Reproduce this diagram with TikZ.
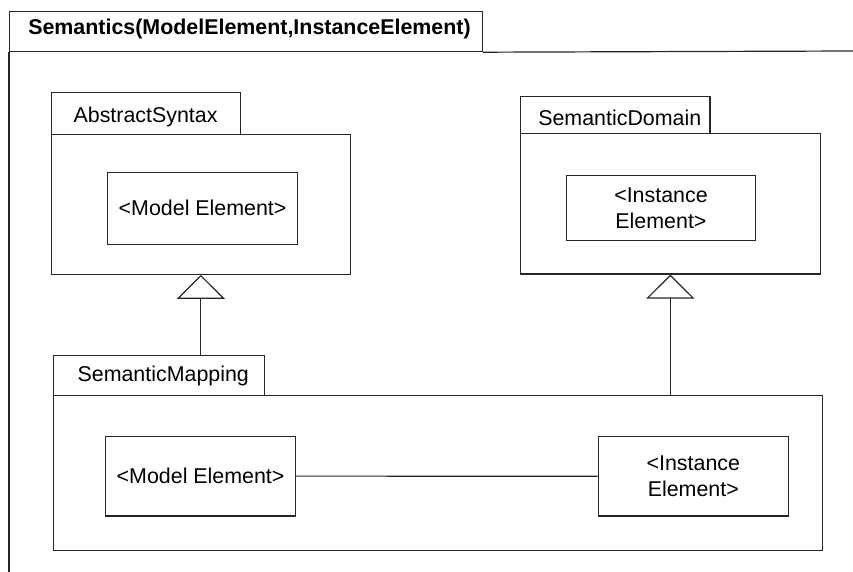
\documentclass[tikz,border=0pt]{standalone}
\usepackage{fontspec}
\setmainfont{Liberation Sans}
\usetikzlibrary{arrows.meta}
\definecolor{ink}{gray}{0.15}
\begin{document}
\begin{tikzpicture}[x=1pt, y=-1pt, line width=1.2pt,
  every node/.style={font=\fontsize{21.4}{25.7}\selectfont, text=black},
  frame/.style={draw=ink, rectangle, anchor=north west, inner sep=0pt},
  label/.style={anchor=base west, inner sep=0pt},
  elem/.style={frame, align=center},
  gen/.style={draw=ink, -{Triangle[open, length=24pt, width=48pt]}}]
\useasboundingbox (0,0) rectangle (853,572);

% outer diagram frame with its name tab
\node[frame, minimum width=473pt, minimum height=40pt] (ttab) at (9,11) {};
\coordinate (fbottom) at (9,572);
\coordinate (fright) at (853,51);
\draw[ink] (ttab.south west) -- (fbottom);
\draw[ink] (ttab.south east) -- (fright);
\node[label, font=\fontsize{21.4}{25.7}\selectfont\bfseries] (ttext) at (27.7,35) {Semantics(ModelElement,InstanceElement)};

% package AbstractSyntax
\node[frame, minimum width=189.5pt, minimum height=41.4pt] (absTab) at (50.5,92.3) {};
\node[frame, minimum width=299.5pt, minimum height=140pt] (absBody) at (50.5,133.7) {};
\node[label] (absText) at (73,122.7) {AbstractSyntax};
\node[elem, minimum width=190pt, minimum height=72pt] (absElem) at (107,171.7) {<Model Element>};

% package SemanticDomain
\node[frame, minimum width=189.3pt, minimum height=37.3pt] (domTab) at (520,96) {};
\node[frame, minimum width=299.5pt, minimum height=140pt] (domBody) at (520,133.3) {};
\node[label] (domText) at (537.7,125.7) {SemanticDomain};
\node[elem, minimum width=189.3pt, minimum height=64.4pt] (domElem) at (565.7,175.3) {<Instance\\Element>};

% package SemanticMapping
\node[frame, minimum width=211.3pt, minimum height=40pt] (mapTab) at (52.7,355) {};
\node[frame, minimum width=769.2pt, minimum height=154.7pt] (mapBody) at (52.5,395) {};
\node[label] (mapText) at (77,381.7) {SemanticMapping};
\node[elem, minimum width=190pt, minimum height=79.6pt] (mapModel) at (105,435.7) {<Model Element>};
\node[elem, minimum width=190pt, minimum height=79.3pt] (mapInst) at (597.7,436) {<Instance\\Element>};

% generalizations and the mapping link
\draw[gen] (absBody.south |- mapTab.north) -- (absBody.south);
\draw[gen] (domBody.south |- mapBody.north) -- (domBody.south);
\draw[ink] (mapModel.east) -- (mapInst.west);
\end{tikzpicture}
\end{document}
